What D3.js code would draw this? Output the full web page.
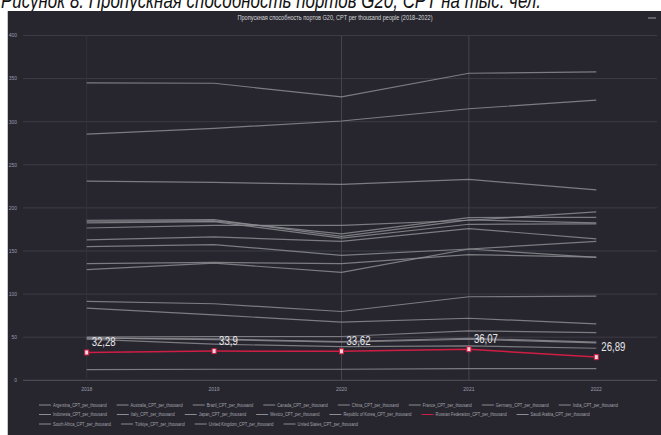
<!DOCTYPE html>
<html>
<head>
<meta charset="utf-8">
<script src="https://cdn.jsdelivr.net/npm/d3@7"></script>
<style>
  body { margin: 0; background: #fff; }
  svg { display: block; }
  .narrow { font-family: "Liberation Sans", Arial, sans-serif; }
</style>
</head>
<body>
<div id="chart"></div>
<script>
// years on the x axis
const years = ["2018", "2019", "2020", "2021", "2022"];
const yTicks = [0, 50, 100, 150, 200, 250, 300, 350, 400];
const gridYears = ["2018", "2020", "2021"];

// CPT per thousand people
const korea        = [345.0, 344.6, 328.7, 356.2, 357.7];
const australia    = [285.7, 292.3, 300.8, 315.0, 325.0];
const saudiArabia  = [231.0, 229.5, 227.2, 233.0, 221.0];
const germany      = [185.7, 186.5, 167.0, 186.0, 182.6];
const italy        = [184.5, 185.0, 169.8, 188.8, 189.1];
const canada       = [182.6, 184.0, 165.0, 181.0, 181.4];
const china        = [176.7, 179.8, 179.8, 185.7, 195.3];
const japan        = [162.8, 166.3, 161.2, 176.0, 164.0];
const uk           = [155.0, 157.4, 145.0, 152.3, 142.6];
const turkiye      = [135.3, 136.8, 135.3, 145.7, 143.0];
const usa          = [128.3, 136.0, 125.2, 152.3, 161.2];
const france       = [91.5, 88.8, 79.8, 96.9, 97.7];
const southAfrica  = [83.7, 76.0, 67.4, 72.0, 65.5];
const mexico       = [50.0, 50.8, 50.8, 57.4, 55.4];
const indonesia    = [48.8, 48.0, 45.0, 48.8, 44.2];
const argentina    = [49.3, 47.2, 44.2, 47.6, 43.4];
const brazil       = [47.7, 41.9, 39.0, 40.0, 37.2];
const russia       = [32.28, 33.9, 33.62, 36.07, 26.89];
const india        = [12.5, 12.8, 12.8, 13.5, 13.5];

const seriesNames = ["Argentina", "Australia", "Brazil", "Canada", "China", "France", "Germany", "India",
  "Indonesia", "Italy", "Japan", "Mexico", "Republic of Korea", "Russian Federation", "Saudi Arabia",
  "South Africa", "Türkiye", "United Kingdom", "United States"];
const seriesValues = [argentina, australia, brazil, canada, china, france, germany, india,
  indonesia, italy, japan, mexico, korea, russia, saudiArabia,
  southAfrica, turkiye, uk, usa];
const highlight = "Russian Federation";
const legendRows = [8, 7, 4];

const W = 661, H = 435;
const svg = d3.select('#chart').append('svg')
    .attr('width', W)
    .attr('height', H);

// squeeze a text horizontally so it looks like a narrow font
function condense(sel, factor) {
    sel.each(function() {
        const w = this.getComputedTextLength();
        d3.select(this).attr('textLength', w * factor).attr('lengthAdjust', 'spacingAndGlyphs');
    });
}

// caption above the panel, cut off at the top of the picture
svg.append('text')
    .attr('x', 1)
    .attr('y', 8)
    .attr('textLength', 540)
    .attr('lengthAdjust', 'spacingAndGlyphs')
    .style('font-family', '"Liberation Sans", Arial, sans-serif')
    .style('font-style', 'italic')
    .style('font-size', '22px')
    .style('fill', '#111')
    .text('Рисунок 8. Пропускная способность портов G20, CPT на тыс. чел.');

// dark panel
svg.append('rect')
    .attr('x', 7).attr('y', 11)
    .attr('width', W - 7).attr('height', H - 11)
    .attr('fill', '#27262e');
svg.append('line')
    .attr('x1', 7.5).attr('x2', 7.5)
    .attr('y1', 11).attr('y2', H)
    .attr('stroke', '#c8c8cc');

svg.append('text')
    .attr('class', 'narrow')
    .attr('x', 335)
    .attr('y', 20)
    .attr('text-anchor', 'middle')
    .attr('textLength', 195)
    .attr('lengthAdjust', 'spacingAndGlyphs')
    .style('font-size', '7px')
    .style('fill', '#d6d6da')
    .text('Пропускная способность портов G20, CPT per thousand people (2018–2022)');
svg.append('line')
    .attr('x1', 648).attr('x2', 656)
    .attr('y1', 18).attr('y2', 18)
    .attr('stroke', '#9a9aa0');

const x = d3.scalePoint()
    .domain(years)
    .range([23, 660])
    .padding(0.5);

const y = d3.scaleLinear()
    .domain([0, 400])
    .range([380.3, 35.5]);

// horizontal grid
svg.append('g')
    .selectAll('line')
    .data(yTicks)
    .enter().append('line')
    .attr('x1', 23).attr('x2', 657)
    .attr('y1', d => y(d)).attr('y2', d => y(d))
    .attr('stroke', d => d === 0 ? '#55545c' : '#3d3c45')
    .attr('stroke-width', 1);

// vertical grid
svg.append('g')
    .selectAll('line')
    .data(gridYears)
    .enter().append('line')
    .attr('x1', d => x(d)).attr('x2', d => x(d))
    .attr('y1', y(400)).attr('y2', y(0))
    .attr('stroke', d => d === '2018' ? '#34333b' : '#45444c');

// y tick labels
svg.append('g')
    .selectAll('text')
    .data(yTicks)
    .enter().append('text')
    .attr('class', 'narrow')
    .attr('x', 17)
    .attr('y', d => y(d) + 1.8)
    .attr('text-anchor', 'end')
    .style('font-size', '5px')
    .style('fill', '#9a9cab')
    .text(d => d);

// x tick labels
svg.append('g')
    .selectAll('text')
    .data(years)
    .enter().append('text')
    .attr('class', 'narrow')
    .attr('x', d => x(d))
    .attr('y', 391)
    .attr('text-anchor', 'middle')
    .style('font-size', '5px')
    .style('fill', '#9a9cab')
    .text(d => d);

const series = seriesNames.map((name, i) => ({
    name: name,
    label: name + '_CPT_per_thousand',
    values: seriesValues[i].map((v, j) => ({year: years[j], value: v}))
}));

const line = d3.line()
    .x(d => x(d.year))
    .y(d => y(d.value));

const grayColor = '#8b8b90';
const redColor = '#d01d44';

svg.append('g')
    .selectAll('path')
    .data(series.filter(s => s.name !== highlight))
    .enter().append('path')
    .attr('d', d => line(d.values))
    .attr('fill', 'none')
    .attr('stroke', grayColor)
    .attr('stroke-opacity', 0.85)
    .attr('stroke-width', 1.2);

const red = series.find(s => s.name === highlight);
svg.append('path')
    .attr('d', line(red.values))
    .attr('fill', 'none')
    .attr('stroke', redColor)
    .attr('stroke-width', 1.5);

svg.append('g')
    .selectAll('rect')
    .data(red.values)
    .enter().append('rect')
    .attr('x', d => x(d.year) - 2)
    .attr('y', d => y(d.value) - 2.5)
    .attr('width', 4)
    .attr('height', 5)
    .attr('fill', '#f4d9df')
    .attr('stroke', redColor)
    .attr('stroke-width', 1);

const ru = d3.formatLocale({decimal: ',', thousands: ' ', grouping: [3], currency: ['', '']});
const fmt = v => ru.format('.2~f')(v);

svg.append('g')
    .selectAll('text')
    .data(red.values)
    .enter().append('text')
    .attr('class', 'narrow')
    .attr('x', d => x(d.year) + 5)
    .attr('y', d => y(d.value) - 6)
    .style('font-size', '12px')
    .style('fill', '#e6e6ea')
    .text(d => fmt(d.value))
    .call(condense, 0.8);

// legend: measure the texts first, then squeeze them so the first row fits
const legend = svg.append('g');
const rowY = [405, 414.5, 424];
const legendLeft = 39, legendRight = 618, iconW = 12, iconGap = 2, itemGap = 10;
const texts = series.map(s => legend.append('text')
    .attr('class', 'narrow')
    .style('font-size', '5px')
    .style('fill', '#a4a4ac')
    .text(s.label));
const widths = texts.map(t => t.node().getComputedTextLength());
const n0 = legendRows[0];
const squeeze = (legendRight - legendLeft - n0 * (iconW + iconGap) - (n0 - 1) * itemGap) /
    d3.sum(widths.slice(0, n0));
let idx = 0;
legendRows.forEach((count, r) => {
    let cx = legendLeft;
    for (let i = idx; i < idx + count; i++) {
        const s = series[i];
        const c = s.name === highlight ? redColor : grayColor;
        legend.append('line')
            .attr('x1', cx).attr('x2', cx + iconW)
            .attr('y1', rowY[r]).attr('y2', rowY[r])
            .attr('stroke', c)
            .attr('stroke-width', 1);
        const w = widths[i] * squeeze;
        texts[i]
            .attr('x', cx + iconW + iconGap)
            .attr('y', rowY[r] + 1.7)
            .attr('textLength', w)
            .attr('lengthAdjust', 'spacingAndGlyphs');
        cx += iconW + iconGap + w + itemGap;
    }
    idx += count;
});
</script>
</body>
</html>
